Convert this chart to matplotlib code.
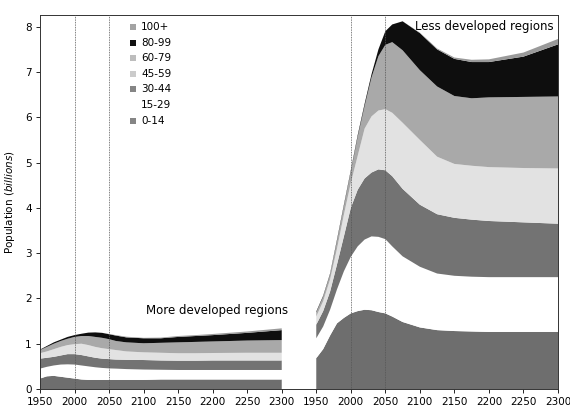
import numpy as np
import matplotlib
matplotlib.use('Agg')
import matplotlib.pyplot as plt

# ------------------------------------------------------------
# data (billions)
# ------------------------------------------------------------
years = [1950, 1960, 1970, 1980, 1990, 2000, 2010, 2020, 2030, 2040,
         2050, 2060, 2075, 2100, 2125, 2150, 2175, 2200, 2250, 2300]
age_groups = ['0-14', '15-29', '30-44', '45-59', '60-79', '80-99', '100+']

# More developed regions
more_0_14 = [0.23, 0.28, 0.29, 0.27, 0.25, 0.23, 0.21, 0.20, 0.20, 0.20,
             0.20, 0.20, 0.20, 0.20, 0.21, 0.21, 0.21, 0.21, 0.21, 0.21]
more_15_29 = [0.22, 0.21, 0.23, 0.27, 0.295, 0.31, 0.31, 0.30, 0.28, 0.265,
              0.255, 0.25, 0.24, 0.23, 0.215, 0.21, 0.21, 0.21, 0.21, 0.21]
more_30_44 = [0.22, 0.20, 0.19, 0.20, 0.225, 0.23, 0.23, 0.22, 0.21, 0.205,
              0.205, 0.20, 0.205, 0.21, 0.205, 0.205, 0.205, 0.21, 0.21, 0.21]
more_45_59 = [0.12, 0.14, 0.17, 0.19, 0.20, 0.22, 0.25, 0.25, 0.24, 0.23,
              0.22, 0.21, 0.185, 0.17, 0.17, 0.165, 0.165, 0.165, 0.17, 0.17]
more_60_79 = [0.07, 0.10, 0.12, 0.13, 0.14, 0.16, 0.17, 0.20, 0.22, 0.23,
              0.22, 0.20, 0.20, 0.20, 0.22, 0.24, 0.25, 0.255, 0.27, 0.28]
more_80_99 = [0.01, 0.02, 0.03, 0.03, 0.04, 0.04, 0.05, 0.075, 0.10, 0.11,
              0.11, 0.12, 0.11, 0.11, 0.10, 0.12, 0.13, 0.14, 0.17, 0.22]
more_100 = [0, 0, 0, 0, 0, 0, 0, 0, 0, 0,
            0.005, 0.01, 0.015, 0.01, 0.015, 0.02, 0.02, 0.025, 0.03, 0.04]

# Less developed regions
less_0_14 = [0.68, 0.88, 1.18, 1.45, 1.57, 1.67, 1.72, 1.75, 1.74, 1.70,
             1.67, 1.60, 1.48, 1.36, 1.30, 1.28, 1.27, 1.26, 1.26, 1.26]
less_15_29 = [0.44, 0.50, 0.57, 0.75, 1.03, 1.25, 1.43, 1.55, 1.63, 1.66,
              1.64, 1.55, 1.45, 1.34, 1.25, 1.22, 1.21, 1.21, 1.21, 1.21]
less_30_44 = [0.30, 0.34, 0.40, 0.55, 0.77, 1.08, 1.25, 1.35, 1.41, 1.49,
              1.52, 1.55, 1.49, 1.37, 1.31, 1.28, 1.26, 1.24, 1.21, 1.18]
less_45_59 = [0.18, 0.22, 0.27, 0.35, 0.48, 0.55, 0.75, 1.10, 1.24, 1.30,
              1.35, 1.40, 1.46, 1.43, 1.27, 1.19, 1.19, 1.19, 1.20, 1.22]
less_60_79 = [0.09, 0.10, 0.11, 0.17, 0.19, 0.25, 0.42, 0.50, 0.86, 1.20,
              1.42, 1.56, 1.60, 1.54, 1.55, 1.50, 1.49, 1.54, 1.57, 1.59]
less_80_99 = [0.02, 0.02, 0.02, 0.03, 0.03, 0.03, 0.04, 0.05, 0.07, 0.15,
              0.30, 0.39, 0.64, 0.82, 0.82, 0.82, 0.80, 0.78, 0.89, 1.15]
less_100 = [0, 0, 0, 0, 0, 0, 0, 0, 0, 0,
            0, 0, 0, 0.01, 0.02, 0.03, 0.05, 0.06, 0.09, 0.12]

tick_years = [1950, 2000, 2050, 2100, 2150, 2200, 2250, 2300]
marker_years = [2000, 2050]

# ------------------------------------------------------------
fill_colors = ['#6e6e6e', '#ffffff', '#737373', '#e2e2e2', '#a9a9a9', '#0e0e0e', '#9a9a9a']
legend_colors = ['#858585', None, '#858585', '#cbcbcb', '#bdbdbd', '#111111', '#a3a3a3']

offset = 400  # second panel is drawn to the right of the first on the same axis

fig = plt.figure(figsize=(5.70, 4.07), dpi=100)
ax = fig.add_axes([40 / 570, 1 - 389 / 407, 518 / 570, 374.5 / 407])

more = [more_0_14, more_15_29, more_30_44, more_45_59, more_60_79, more_80_99, more_100]
less = [less_0_14, less_15_29, less_30_44, less_45_59, less_60_79, less_80_99, less_100]

x = np.array(years)
ax.stackplot(x, *more, colors=fill_colors, linewidth=0)
ax.stackplot(x + offset, *less, colors=fill_colors, linewidth=0)

for yr in marker_years:
    for shift in (0, offset):
        ax.axvline(yr + shift, color='#555555', linewidth=0.6,
                   linestyle=(0, (1, 1)), zorder=3)

ax.set_xlim(1950, 2300 + offset)
ax.set_ylim(0, 8.27)

ticks = tick_years + [t + offset for t in tick_years]
ax.set_xticks(ticks)
ax.set_xticklabels([str(t) for t in tick_years] * 2, fontsize=7.5)
ax.set_yticks(range(0, 9))
ax.tick_params(axis='y', labelsize=7.5, length=3, width=0.6, pad=3)
ax.tick_params(axis='x', length=3, width=0.6, pad=3)
for s in ax.spines.values():
    s.set_linewidth(0.7)
    s.set_color('#333333')

ax.set_ylabel('Population ($\\it{billions}$)', fontsize=7.5, labelpad=6)

ax.text(2300 + offset - 6, 8.0, 'Less developed regions', ha='right',
        va='center', fontsize=8.5)
ax.text(2207, 1.73, 'More developed regions', ha='center', va='center',
        fontsize=8.5)

# legend, top entry first
for i, (lab, col) in enumerate(zip(age_groups[::-1], legend_colors[::-1])):
    yy = 0.967 - i * 0.0418
    if col is not None:
        ax.scatter([0.18], [yy], s=16, marker='s', color=col,
                   transform=ax.transAxes, zorder=5, linewidths=0)
    ax.text(0.195, yy, lab, transform=ax.transAxes, fontsize=7.5,
            va='center', ha='left')

fig.savefig('out.png', dpi=100, facecolor='white')
